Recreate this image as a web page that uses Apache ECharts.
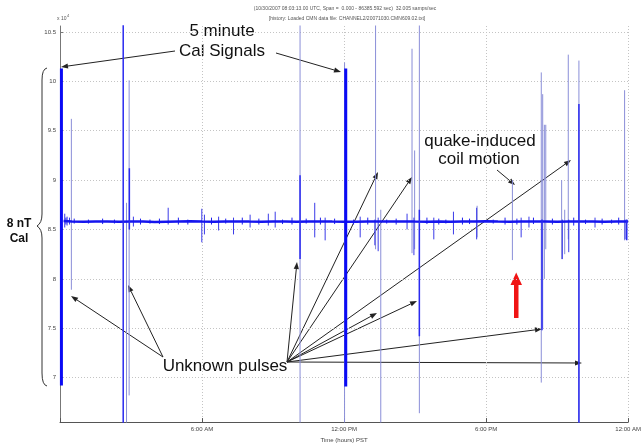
<!DOCTYPE html>
<html>
<head>
<meta charset="utf-8">
<script src="https://cdn.jsdelivr.net/npm/echarts@6/dist/echarts.min.js"></script>
<style>html,body{margin:0;padding:0;background:#fff}#chart{width:644px;height:448px}</style>
</head>
<body>
<div id="chart"></div>
<script>
var myChart = echarts.init(document.getElementById('chart'));

var xTicks = [6, 12, 18, 24];
var xTickLabels = ['6:00 AM', '12:00 PM', '6:00 PM', '12:00 AM'];
var yTicks = [7, 7.5, 8, 8.5, 9, 9.5, 10, 10.5];

// baseline of the magnetometer trace (hours PST, field x10^4)
var baseHours = [0.15, 0.5, 1, 1.5, 2, 2.5, 3, 3.5, 4, 4.5, 5, 5.5, 6, 6.5, 7, 7.5, 8, 8.5, 9, 9.5, 10, 10.5,
    11, 11.5, 12, 12.5, 13, 13.5, 14, 14.5, 15, 15.5, 16, 16.5, 17, 17.5, 18, 18.5, 19, 19.5, 20, 20.5, 21,
    21.5, 22, 22.5, 23, 23.5, 24];
var baseValues = [8.585, 8.58, 8.578, 8.58, 8.582, 8.579, 8.581, 8.58, 8.577, 8.579, 8.581, 8.583, 8.58, 8.578,
    8.58, 8.582, 8.58, 8.579, 8.581, 8.58, 8.578, 8.58, 8.582, 8.58, 8.579, 8.578, 8.58, 8.581, 8.58, 8.582,
    8.58, 8.579, 8.58, 8.578, 8.58, 8.581, 8.583, 8.58, 8.579, 8.58, 8.581, 8.58, 8.578, 8.58, 8.581, 8.58,
    8.579, 8.58, 8.58];

// [hour, high, low]
var calSignals = [[0.06, 10.13, 6.92], [12.07, 10.13, 6.91]];
var strongPulses = [[2.67, 10.7, 6.4], [2.93, 9.12, 8.5], [10.14, 9.05, 8.2], [15.18, 8.7, 7.42],
    [20.36, 8.6, 7.48], [21.92, 9.77, 6.4], [23.94, 8.6, 8.39]];
var paleSpikes = [[0.48, 9.62, 7.89], [2.81, 8.77, 6.4], [2.92, 10.01, 6.82], [10.14, 10.7, 6.4],
    [12.02, 10.19, 6.4], [13.33, 10.7, 8.3], [13.55, 8.7, 6.4], [14.87, 10.33, 8.26], [14.98, 9.3, 8.3],
    [15.18, 10.7, 6.64], [17.62, 8.74, 8.42], [19.11, 9.0, 8.19], [20.33, 10.09, 6.95], [20.39, 9.87, 7.5],
    [20.46, 9.56, 8.0], [20.52, 9.56, 8.3], [21.19, 9.0, 8.2], [21.32, 8.7, 8.25], [21.47, 10.27, 8.4],
    [21.92, 10.21, 6.4], [23.85, 9.91, 8.39]];
var smallSpikes = [[0.2, 8.66, 8.52], [0.3, 8.63, 8.54], [0.4, 8.62, 8.55], [3.1, 8.63, 8.53],
    [4.57, 8.72, 8.55], [5.99, 8.71, 8.37], [6.1, 8.65, 8.45], [6.7, 8.63, 8.49], [7.33, 8.62, 8.45],
    [8.03, 8.65, 8.52], [8.8, 8.66, 8.54], [9.09, 8.68, 8.52], [10.76, 8.77, 8.42], [11.2, 8.62, 8.39],
    [12.68, 8.63, 8.42], [13.44, 8.62, 8.28], [13.3, 8.6, 8.34], [14.66, 8.66, 8.5], [14.95, 8.62, 8.24],
    [15.79, 8.62, 8.4], [16.62, 8.68, 8.45], [17.6, 8.72, 8.4], [19.48, 8.62, 8.42], [19.81, 8.63, 8.52],
    [21.22, 8.6, 8.2], [21.49, 8.6, 8.27], [22.6, 8.62, 8.52], [23.87, 8.6, 8.4]];
// fine jitter along the baseline
var tinySpikes = [[0.25, 8.62, 8.55], [0.6, 8.61, 8.56], [1.2, 8.6, 8.56], [1.8, 8.61, 8.555], [2.3, 8.6, 8.56],
    [3.4, 8.61, 8.55], [3.8, 8.6, 8.56], [4.2, 8.61, 8.555], [5.0, 8.62, 8.55], [5.4, 8.6, 8.55],
    [6.4, 8.62, 8.55], [7.0, 8.61, 8.56], [7.7, 8.62, 8.55], [8.4, 8.61, 8.55], [9.4, 8.6, 8.555],
    [9.8, 8.62, 8.55], [10.4, 8.61, 8.56], [11.0, 8.62, 8.55], [11.6, 8.61, 8.555], [12.4, 8.6, 8.55],
    [13.0, 8.62, 8.55], [13.8, 8.6, 8.56], [14.2, 8.61, 8.55], [15.5, 8.62, 8.555], [16.0, 8.61, 8.55],
    [16.3, 8.6, 8.56], [17.0, 8.62, 8.55], [17.3, 8.61, 8.555], [18.3, 8.6, 8.56], [18.8, 8.62, 8.55],
    [19.3, 8.61, 8.55], [20.0, 8.62, 8.555], [20.8, 8.61, 8.55], [21.7, 8.62, 8.54], [22.2, 8.6, 8.555],
    [22.9, 8.61, 8.55], [23.3, 8.6, 8.56], [23.6, 8.62, 8.55]];

function spikeData(list) {
    var d = [];
    list.forEach(function (s) {
        d.push([s[0], s[1]], [s[0], s[2]], [s[0], '-']);
    });
    return d;
}
function lineSeries(name, data, color, width, z) {
    return {
        name: name, type: 'line', data: data, showSymbol: false, symbol: 'none',
        connectNulls: false, clip: true, z: z,
        lineStyle: {color: color, width: width}
    };
}

var ink = '#222';
function arrow(x1, y1, x2, y2) {
    var a = Math.atan2(y2 - y1, x2 - x1), L = 7, W = 2.6;
    var bx = x2 - L * Math.cos(a), by = y2 - L * Math.sin(a);
    return [
        {type: 'line', shape: {x1: x1, y1: y1, x2: bx, y2: by}, style: {stroke: ink, lineWidth: 1}},
        {type: 'polygon', shape: {points: [[x2, y2], [bx - W * Math.sin(a), by + W * Math.cos(a)],
            [bx + W * Math.sin(a), by - W * Math.cos(a)]]}, style: {fill: ink}}
    ];
}
function label(x, y, text, size, weight) {
    return {type: 'text', x: x, y: y, style: {text: text, fill: '#111', align: 'center', verticalAlign: 'middle',
        fontSize: size, fontWeight: weight || 'normal', fontFamily: 'Liberation Sans, Arial, sans-serif'}};
}
function curve(x1, y1, cx, cy, x2, y2) {
    return {type: 'bezierCurve', shape: {x1: x1, y1: y1, cpx1: cx, cpy1: cy, x2: x2, y2: y2},
        style: {fill: 'none', stroke: '#333', lineWidth: 1}};
}
function seg(x1, y1, x2, y2) {
    return {type: 'line', shape: {x1: x1, y1: y1, x2: x2, y2: y2}, style: {stroke: '#333', lineWidth: 1}};
}

var notes = [
    label(222, 31, '5 minute', 17), label(222, 51, 'Cal Signals', 17),
    label(480, 141, 'quake-induced', 17), label(479, 159, 'coil motion', 17),
    label(225, 366, 'Unknown pulses', 17),
    label(19, 224, '8 nT', 12, 'bold'), label(19, 239, 'Cal', 12, 'bold'),
    {type: 'text', x: 345, y: 9, style: {text: '(10/30/2007 08:03:13.00 UTC, Span =  0.000 - 86385.592 sec)  32.005 samps/sec',
        fill: '#555', align: 'center', verticalAlign: 'middle', fontSize: 5, fontFamily: 'Liberation Sans, Arial'}},
    {type: 'text', x: 347, y: 19, style: {text: '[history: Loaded CMN data file: CHANNEL2/20071030.CMN609.02.txt]',
        fill: '#555', align: 'center', verticalAlign: 'middle', fontSize: 5, fontFamily: 'Liberation Sans, Arial'}},
    {type: 'text', x: 57, y: 19, style: {text: 'x 10', fill: '#555', verticalAlign: 'middle', fontSize: 5, fontFamily: 'Liberation Sans, Arial'}},
    {type: 'text', x: 67, y: 16, style: {text: '4', fill: '#555', verticalAlign: 'middle', fontSize: 4, fontFamily: 'Liberation Sans, Arial'}},
    curve(47, 68, 42, 69, 42, 80), seg(42, 80, 42, 214), curve(42, 214, 42, 223, 37, 226),
    curve(37, 226, 42, 229, 42, 238), seg(42, 238, 42, 373), curve(42, 373, 42, 385, 47, 386),
    {type: 'polygon', shape: {points: [[514, 318], [518.5, 318], [518.5, 285], [522, 285], [516.2, 272.5], [510.5, 285], [514, 285]]},
        style: {fill: '#f01414'}}
];
notes = notes.concat(
    arrow(175, 51, 61, 67), arrow(276, 53, 341, 72),
    arrow(497, 170, 515, 185),
    arrow(163, 357, 71, 296), arrow(163, 357, 128, 285),
    arrow(287, 362, 297, 262), arrow(287, 362, 378, 172), arrow(287, 362, 412, 177),
    arrow(287, 362, 571, 160), arrow(287, 362, 377, 313), arrow(287, 362, 417, 301),
    arrow(287, 362, 542, 329), arrow(287, 362, 582, 363)
);

var baseline = baseHours.map(function (h, i) { return [h, baseValues[i]]; });

option = {
    animation: false,
    backgroundColor: '#fff',
    grid: {left: 60, right: 11, top: 26, bottom: 17.3},
    xAxis: {
        type: 'value', min: 0, max: 24, interval: 6,
        name: 'Time (hours) PST', nameLocation: 'middle', nameGap: 14,
        nameTextStyle: {fontSize: 6, color: '#444', fontFamily: 'Liberation Sans, Arial'},
        axisLine: {onZero: false, lineStyle: {color: '#555', width: 1}},
        axisTick: {inside: true, length: 4, lineStyle: {color: '#555'}},
        axisLabel: {fontSize: 6, color: '#444', margin: 4, fontFamily: 'Liberation Sans, Arial',
            formatter: function (v) { var i = xTicks.indexOf(v); return i < 0 ? '' : xTickLabels[i]; }},
        splitLine: {lineStyle: {color: '#c4c4c4', type: [1, 2]}}
    },
    yAxis: {
        type: 'value', min: 6.55, max: 10.56,
        axisLine: {show: true, lineStyle: {color: '#777', width: 1}},
        axisTick: {inside: true, length: 3, customValues: yTicks, lineStyle: {color: '#777'}},
        axisLabel: {fontSize: 6, color: '#444', margin: 4, customValues: yTicks, fontFamily: 'Liberation Sans, Arial',
            formatter: function (v) { return String(v); }},
        splitLine: {lineStyle: {color: '#c4c4c4', type: [1, 2]}}
    },
    graphic: notes,
    series: [
        lineSeries('pale', spikeData(paleSpikes), '#8a8ed8', 1, 1),
        lineSeries('noise', spikeData(smallSpikes), '#3a3ae8', 1, 2),
        lineSeries('jitter', spikeData(tinySpikes), '#2020ee', 1, 2),
        lineSeries('baseline', baseline, '#1515ee', 2.5, 3),
        lineSeries('pulses', spikeData(strongPulses), '#2a2af0', 1.5, 4),
        lineSeries('cal', spikeData(calSignals), '#0a0af5', 3, 5)
    ]
};
myChart.setOption(option);
</script>
</body>
</html>
